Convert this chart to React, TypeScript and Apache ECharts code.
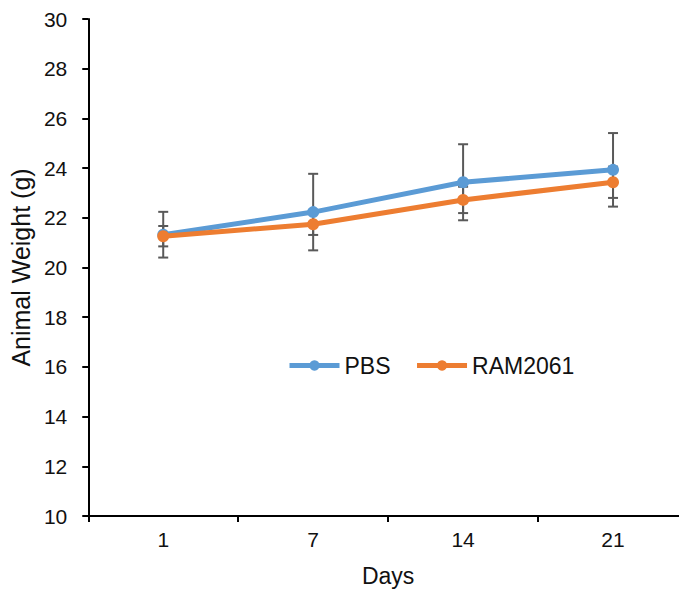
import React, { useEffect, useRef } from "react";
import * as echarts from "echarts";

const days = ["1", "7", "14", "21"];
const pbsMean = [21.32, 22.23, 23.43, 23.93];
const pbsErr = [0.92, 1.54, 1.53, 1.48];
const ramMean = [21.26, 21.74, 22.72, 23.43];
const ramErr = [0.41, 0.43, 0.53, 0.63];
const yTicks = { min: 10, max: 30, interval: 2 };

const BLUE = "#5B9BD5";
const ORANGE = "#ED7D31";
const FONT = "Liberation Sans, Arial, sans-serif";

function errorData(mean: number[], err: number[]) {
  return mean.map((m, i) => [i, m - err[i], m + err[i]]);
}

function errorSeries(name: string, mean: number[], err: number[]) {
  return {
    type: "custom",
    name: name + "-err",
    z: 1,
    silent: true,
    data: errorData(mean, err),
    renderItem: (params: any, api: any) => {
      const x = api.value(0);
      const lo = api.coord([x, api.value(1)]);
      const hi = api.coord([x, api.value(2)]);
      const hw = 5;
      const style = { stroke: "#595959", lineWidth: 2 };
      return {
        type: "group",
        children: [
          { type: "line", shape: { x1: lo[0], y1: lo[1], x2: hi[0], y2: hi[1] }, style },
          { type: "line", shape: { x1: lo[0] - hw, y1: lo[1], x2: lo[0] + hw, y2: lo[1] }, style },
          { type: "line", shape: { x1: hi[0] - hw, y1: hi[1], x2: hi[0] + hw, y2: hi[1] }, style },
        ],
      };
    },
  };
}

export default function App() {
  const ref = useRef<HTMLDivElement>(null);
  useEffect(() => {
    if (!ref.current) return;
    const chart = echarts.init(ref.current, undefined, { renderer: "svg" });
    chart.setOption({
      animation: false,
      backgroundColor: "#ffffff",
      textStyle: { fontFamily: FONT },
      grid: { left: 88, right: 12, top: 19, bottom: 78, containLabel: false },
      legend: {
        data: ["PBS", "RAM2061"],
        left: 287,
        top: 354,
        padding: 0,
        itemWidth: 50,
        itemHeight: 13,
        itemGap: 24,
        lineStyle: { width: 5 },
        textStyle: { fontSize: 23, color: "#111", fontFamily: FONT },
      },
      xAxis: {
        type: "category",
        data: days,
        boundaryGap: true,
        name: "Days",
        nameLocation: "middle",
        nameGap: 48,
        nameTextStyle: { fontSize: 23, color: "#111", fontFamily: FONT },
        axisLine: { lineStyle: { color: "#000", width: 2 } },
        axisTick: { show: true, length: 6, inside: false, lineStyle: { color: "#000", width: 2 } },
        axisLabel: { fontSize: 21, color: "#111", margin: 13, fontFamily: FONT },
        splitLine: { show: false },
      },
      yAxis: {
        type: "value",
        min: yTicks.min,
        max: yTicks.max,
        interval: yTicks.interval,
        name: "Animal Weight (g)",
        nameLocation: "middle",
        nameGap: 50,
        nameTextStyle: { fontSize: 25, color: "#111", fontFamily: FONT },
        axisLine: { show: true, lineStyle: { color: "#000", width: 2 } },
        axisTick: { show: true, length: 6, inside: false, lineStyle: { color: "#000", width: 2 } },
        axisLabel: { fontSize: 21, color: "#111", margin: 21, fontFamily: FONT },
        splitLine: { show: false },
      },
      series: [
        errorSeries("PBS", pbsMean, pbsErr),
        errorSeries("RAM2061", ramMean, ramErr),
        {
          type: "line",
          name: "PBS",
          z: 3,
          data: pbsMean,
          symbol: "circle",
          symbolSize: 12,
          lineStyle: { color: BLUE, width: 5 },
          itemStyle: { color: BLUE },
        },
        {
          type: "line",
          name: "RAM2061",
          z: 4,
          data: ramMean,
          symbol: "circle",
          symbolSize: 12,
          lineStyle: { color: ORANGE, width: 5 },
          itemStyle: { color: ORANGE },
        },
      ],
    });
    return () => chart.dispose();
  }, []);
  return (
    <div
      style={{ position: "absolute", left: 0, top: 0, width: 679, height: 594, overflow: "hidden", background: "#fff" }}
    >
      <div ref={ref} style={{ width: 700, height: 594 }} />
    </div>
  );
}
